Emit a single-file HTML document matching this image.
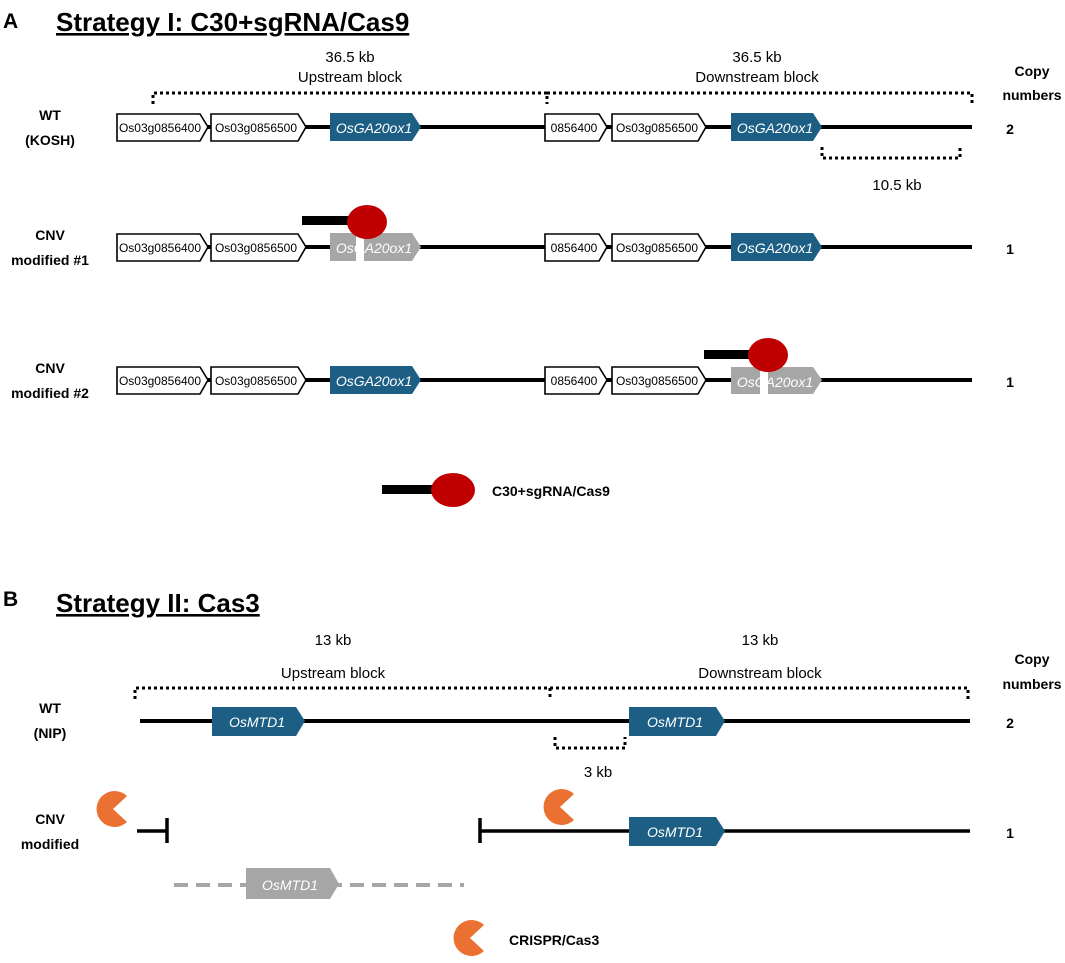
<!DOCTYPE html>
<html><head><meta charset="utf-8"><style>
html,body{margin:0;padding:0;background:#fff;}
svg{display:block;font-family:"Liberation Sans",Arial,sans-serif;}
.w{fill:#fff;stroke:#000;stroke-width:1.6;}
.b{fill:#1d5f84;}
.g{fill:#a6a6a6;}
.t{font-size:12px;fill:#000;text-anchor:middle;}
.it{font-size:14px;font-style:italic;fill:#fff;text-anchor:middle;}
.lbl{font-size:14px;font-weight:bold;text-anchor:middle;}
.dot{fill:none;stroke:#000;stroke-width:3;stroke-dasharray:3 3;}
.ln{stroke:#000;stroke-width:4;}
.n{font-size:15px;text-anchor:middle;}
</style></head><body>
<svg width="1065" height="963" viewBox="0 0 1065 963">
<!-- Section A -->
<text x="3" y="28" font-size="21" font-weight="bold">A</text>
<text x="56" y="31" font-size="26" font-weight="bold" text-decoration="underline">Strategy I: C30+sgRNA/Cas9</text>
<text x="350" y="62" class="n">36.5 kb</text>
<text x="350" y="82" class="n">Upstream block</text>
<text x="757" y="62" class="n">36.5 kb</text>
<text x="757" y="82" class="n">Downstream block</text>
<path class="dot" d="M153,104 V93 H547 V104 M547,93 H972 V104"/>
<text x="1032" y="76" class="lbl" font-size="15">Copy</text>
<text x="1032" y="100" class="lbl" font-size="15">numbers</text>

<!-- Row 1 -->
<text x="50" y="120" class="lbl">WT</text><text x="50" y="145" class="lbl">(KOSH)</text>
<line class="ln" x1="205" y1="127" x2="972" y2="127"/>
<polygon class="w" points="117,114 200,114 208,127 200,141 117,141"/>
<text x="160" y="132" class="t">Os03g0856400</text>
<polygon class="w" points="211,114 298,114 306,127 298,141 211,141"/>
<text x="256" y="132" class="t">Os03g0856500</text>
<polygon class="b" points="330,113 412,113 421,127 412,141 330,141"/>
<text x="374" y="133" class="it">OsGA20ox1</text>
<polygon class="w" points="545,114 599,114 607,127 599,141 545,141"/>
<text x="574" y="132" class="t">0856400</text>
<polygon class="w" points="612,114 698,114 706,127 698,141 612,141"/>
<text x="657" y="132" class="t">Os03g0856500</text>
<polygon class="b" points="731,113 813,113 822,127 813,141 731,141"/>
<text x="775" y="133" class="it">OsGA20ox1</text>
<text x="1010" y="134" class="lbl" font-size="15">2</text>
<path class="dot" d="M822,147 V158 H960 V147"/>
<text x="897" y="190" class="n">10.5 kb</text>

<!-- Row 2 -->
<text x="50" y="240" class="lbl">CNV</text><text x="50" y="265" class="lbl">modified #1</text>
<line class="ln" x1="205" y1="247" x2="972" y2="247"/>
<polygon class="w" points="117,234 200,234 208,247 200,261 117,261"/>
<text x="160" y="252" class="t">Os03g0856400</text>
<polygon class="w" points="211,234 298,234 306,247 298,261 211,261"/>
<text x="256" y="252" class="t">Os03g0856500</text>
<polygon class="g" points="330,233 412,233 421,247 412,261 330,261"/>
<rect x="356" y="233" width="8" height="30" fill="#fff"/>
<text x="374" y="253" class="it">OsGA20ox1</text>
<rect x="302" y="216" width="50" height="9" fill="#000"/>
<ellipse cx="367" cy="222" rx="20" ry="17" fill="#c00000"/>
<polygon class="w" points="545,234 599,234 607,247 599,261 545,261"/>
<text x="574" y="252" class="t">0856400</text>
<polygon class="w" points="612,234 698,234 706,247 698,261 612,261"/>
<text x="657" y="252" class="t">Os03g0856500</text>
<polygon class="b" points="731,233 813,233 822,247 813,261 731,261"/>
<text x="775" y="253" class="it">OsGA20ox1</text>
<text x="1010" y="254" class="lbl" font-size="15">1</text>

<!-- Row 3 -->
<text x="50" y="373" class="lbl">CNV</text><text x="50" y="398" class="lbl">modified #2</text>
<line class="ln" x1="205" y1="380" x2="972" y2="380"/>
<polygon class="w" points="117,367 200,367 208,380 200,394 117,394"/>
<text x="160" y="385" class="t">Os03g0856400</text>
<polygon class="w" points="211,367 298,367 306,380 298,394 211,394"/>
<text x="256" y="385" class="t">Os03g0856500</text>
<polygon class="b" points="330,366 412,366 421,380 412,394 330,394"/>
<text x="374" y="386" class="it">OsGA20ox1</text>
<polygon class="w" points="545,367 599,367 607,380 599,394 545,394"/>
<text x="574" y="385" class="t">0856400</text>
<polygon class="w" points="612,367 698,367 706,380 698,394 612,394"/>
<text x="657" y="385" class="t">Os03g0856500</text>
<polygon class="g" points="731,367 813,367 822,380 813,394 731,394"/>
<rect x="760" y="367" width="8" height="30" fill="#fff"/>
<text x="775" y="387" class="it">OsGA20ox1</text>
<rect x="704" y="350" width="50" height="9" fill="#000"/>
<ellipse cx="768" cy="355" rx="20" ry="17" fill="#c00000"/>
<text x="1010" y="387" class="lbl" font-size="15">1</text>

<!-- Legend A -->
<rect x="382" y="485" width="52" height="9" fill="#000"/>
<ellipse cx="453" cy="490" rx="22" ry="17" fill="#c00000"/>
<text x="492" y="496" font-size="14" font-weight="bold">C30+sgRNA/Cas9</text>

<!-- Section B -->
<text x="3" y="606" font-size="21" font-weight="bold">B</text>
<text x="56" y="612" font-size="26" font-weight="bold" text-decoration="underline">Strategy II: Cas3</text>
<text x="333" y="645" class="n">13 kb</text>
<text x="333" y="678" class="n">Upstream block</text>
<text x="760" y="645" class="n">13 kb</text>
<text x="760" y="678" class="n">Downstream block</text>
<path class="dot" d="M135,699 V688 H550 V699 M550,688 H968 V699"/>
<text x="1032" y="664" class="lbl" font-size="15">Copy</text>
<text x="1032" y="689" class="lbl" font-size="15">numbers</text>

<text x="50" y="713" class="lbl">WT</text><text x="50" y="738" class="lbl">(NIP)</text>
<line class="ln" x1="140" y1="721" x2="970" y2="721"/>
<polygon class="b" points="212,707 296,707 305,721 296,736 212,736"/>
<text x="257" y="727" class="it" font-size="15">OsMTD1</text>
<polygon class="b" points="629,707 716,707 725,721 716,736 629,736"/>
<text x="675" y="727" class="it" font-size="15">OsMTD1</text>
<text x="1010" y="728" class="lbl" font-size="15">2</text>
<path class="dot" d="M555,737 V748 H625 V737"/>
<text x="598" y="777" class="n">3 kb</text>

<text x="50" y="824" class="lbl">CNV</text><text x="50" y="849" class="lbl">modified</text>
<line stroke="#000" stroke-width="3.5" x1="137" y1="831" x2="167" y2="831"/>
<line stroke="#000" stroke-width="3.5" x1="167" y1="818" x2="167" y2="843"/>
<line stroke="#000" stroke-width="3.5" x1="480" y1="831" x2="970" y2="831"/>
<line stroke="#000" stroke-width="3.5" x1="480" y1="818" x2="480" y2="843"/>
<path d="M113,809 L127,796 A18,18 0 1,0 127,822 Z" fill="#ea7132"/>
<path d="M560,807 L574,794 A18,18 0 1,0 574,820 Z" fill="#ea7132"/>
<polygon class="b" points="629,817 716,817 725,831 716,846 629,846"/>
<text x="675" y="837" class="it" font-size="15">OsMTD1</text>
<text x="1010" y="838" class="lbl" font-size="15">1</text>

<line stroke="#a6a6a6" stroke-width="4" stroke-dasharray="14 8" x1="174" y1="885" x2="464" y2="885"/>
<polygon class="g" points="246,868 330,868 339,884 330,899 246,899"/>
<text x="290" y="890" class="it" font-size="15">OsMTD1</text>

<path d="M470,938 L484,925 A18,18 0 1,0 484,951 Z" fill="#ea7132"/>
<text x="509" y="945" font-size="14" font-weight="bold">CRISPR/Cas3</text>
</svg>
</body></html>
